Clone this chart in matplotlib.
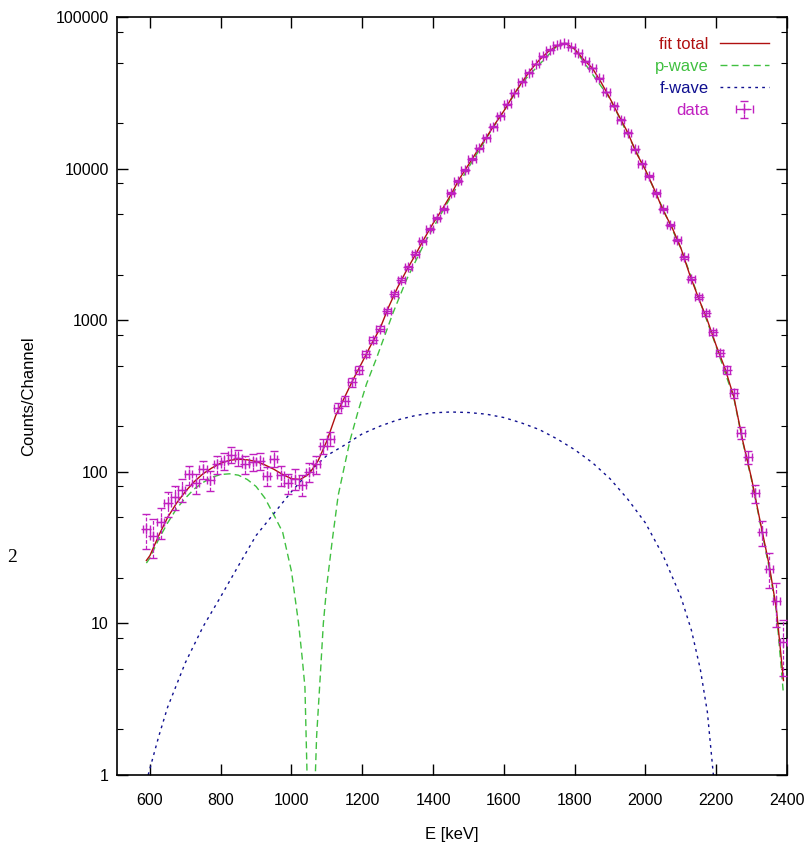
import numpy as np
import matplotlib
matplotlib.use("Agg")
import matplotlib.pyplot as plt
from matplotlib.ticker import LogLocator, FixedLocator, NullFormatter

# ---------------- data ----------------
data_e = [590, 610, 630, 650, 670, 690, 710, 730, 750, 770, 790, 810, 830, 850,
          870, 890, 910, 930, 950, 970, 990, 1010, 1030, 1050, 1070, 1090, 1110,
          1130, 1150, 1170, 1190, 1210, 1230, 1250, 1270, 1290, 1310, 1330, 1350,
          1370, 1390, 1410, 1430, 1450, 1470, 1490, 1510, 1530, 1550, 1570, 1590,
          1610, 1630, 1650, 1670, 1690, 1710, 1730, 1750, 1770, 1790, 1810, 1830,
          1850, 1870, 1890, 1910, 1930, 1950, 1970, 1990, 2010, 2030, 2050, 2070,
          2090, 2110, 2130, 2150, 2170, 2190, 2210, 2230, 2250, 2270, 2290, 2310,
          2330, 2350, 2370, 2390]
data_counts = [42, 38, 47, 62, 68, 76, 96, 84, 104, 88, 112, 118, 130, 124,
               112, 116, 118, 94, 122, 95, 84, 90, 82, 100, 112, 148, 165,
               265, 295, 390, 470, 600, 740, 880, 1150, 1500, 1850, 2240, 2750,
               3330, 4000, 4700, 5450, 6900, 8300, 9800, 11600, 13600, 16000, 18900, 22400,
               26500, 31500, 37500, 43000, 49000, 55000, 61000, 65500, 67000, 63500, 58000, 51000,
               46000, 39500, 32000, 26000, 21000, 17300, 13400, 10800, 8900, 6900, 5400, 4250,
               3380, 2600, 1880, 1420, 1110, 830, 610, 470, 330, 180, 125, 72,
               40, 23, 14, 7.5]
data_err = [11, 11, 11, 12, 12, 13, 14, 13, 14, 13, 15, 15, 15, 15,
            15, 15, 15, 14, 15, 14, 13, 14, 13, 14, 15, 16, 17,
            21, 22, 25, 27, 30, 33, 36, 40, 45, 50, 55, 60,
            66, 72, 78, 85, 95, 105, 115, 125, 135, 145, 160, 170,
            185, 205, 225, 240, 255, 270, 285, 295, 300, 290, 280, 260,
            250, 230, 210, 190, 170, 155, 135, 120, 110, 95, 85, 75,
            68, 60, 50, 44, 38, 33, 28, 25, 21, 16, 13, 10,
            7.5, 6, 4.5, 3]
data_ehalf = 10  # half channel width (keV)

fit_e = [590, 600, 625, 650, 675, 700, 725, 750, 775, 800, 825, 850, 875, 900,
         925, 950, 975, 1000, 1025, 1050, 1075, 1100, 1125, 1150, 1175, 1200,
         1225, 1250, 1275, 1300, 1325, 1350, 1375, 1400, 1425, 1450, 1475, 1500,
         1525, 1550, 1575, 1600, 1625, 1650, 1675, 1700, 1725, 1750, 1775, 1800,
         1825, 1850, 1875, 1900, 1925, 1950, 1975, 2000, 2025, 2050, 2075, 2100,
         2125, 2150, 2175, 2200, 2225, 2250, 2275, 2300, 2325, 2350, 2370, 2390]
fit_total = [26, 28, 38, 50, 62, 74, 86, 97, 106, 114, 119, 121, 120, 117,
             111, 104, 96, 90, 89, 97, 118, 160, 235, 310, 410, 530,
             690, 880, 1230, 1650, 2130, 2700, 3450, 4350, 5350, 6700, 8600, 10600,
             13100, 16000, 19700, 24000, 30000, 36800, 44500, 52000, 59000, 64500, 67000, 61500,
             52500, 46000, 37000, 29000, 22300, 17300, 12600, 9800, 7300, 5300, 4100, 3000,
             2000, 1400, 1000, 680, 480, 310, 160, 90, 46, 24, 12.5, 4.2]

pw_e = [590, 600, 625, 650, 675, 700, 725, 750, 775, 800, 825, 850, 875, 900,
        925, 950, 975, 1000, 1020, 1030, 1038, 1045, 1050, 1055, 1060, 1066, 1071,
        1080, 1090, 1100, 1115, 1132, 1150, 1165, 1188, 1212, 1240, 1287, 1325,
        1375, 1450, 1550, 1650, 1750, 1775, 1800, 1900, 2000, 2100, 2200, 2250,
        2275, 2300, 2325, 2350, 2370, 2390]
pw_vals = [25, 27, 36, 46, 57, 67, 77, 85, 92, 96, 97, 95, 89, 80,
           67, 52, 40, 22, 10, 6, 3.8, 0.8, 0.2, 0.1, 0.2, 0.8, 1.8,
           4, 10, 18, 35, 70, 110, 160, 250, 380, 560, 1120, 1850,
           3200, 6500, 15800, 36600, 64300, 66800, 61300, 28900, 9760, 2980, 670, 305,
           157, 88, 45, 23, 12, 3.4]

fw_e = [595, 625, 650, 700, 750, 800, 850, 900, 950, 1000, 1050, 1100, 1150,
        1200, 1250, 1300, 1350, 1400, 1450, 1500, 1550, 1600, 1650, 1700, 1750,
        1800, 1850, 1900, 1950, 2000, 2050, 2100, 2130, 2155, 2175, 2192]
fw_vals = [1.0, 1.8, 2.8, 5.5, 9.5, 15, 24, 38, 53, 74, 100, 128, 150,
           178, 200, 220, 235, 245, 248, 246, 240, 228, 210, 190, 165,
           140, 115, 90, 66, 46, 28, 15, 9, 5, 2.6, 1.0]

x_ticks = [600, 800, 1000, 1200, 1400, 1600, 1800, 2000, 2200, 2400]
y_ticks = [1, 10, 100, 1000, 10000, 100000]
y_ticklabels = ["1", "10", "100", "1000", "10000", "100000"]

# ---------------- plot ----------------
plt.rcParams['font.family'] = ['Liberation Sans', 'DejaVu Sans']
fig = plt.figure(figsize=(8.09, 8.48), dpi=100)
ax = fig.add_axes([117/809, 1-775/848, (787-117)/809, (775-17)/848])

c_fit = '#b01010'
c_p = '#40c040'
c_f = '#101090'
c_d = '#c020c0'

ax.plot(fit_e, fit_total, color=c_fit, lw=1.0, label='fit total', zorder=3)
ax.plot(pw_e, pw_vals, color=c_p, lw=1.0, ls=(0, (5, 3)), label='p-wave', zorder=2)
ax.plot(fw_e, fw_vals, color=c_f, lw=1.0, ls=(0, (2, 3)), label='f-wave', zorder=2)
eb = ax.errorbar(data_e, data_counts, yerr=data_err, xerr=data_ehalf, fmt='+',
                 color=c_d, ms=7, mew=1.0, elinewidth=0.9, capsize=3, capthick=0.9,
                 label='data', zorder=4)
for lc in eb[2]:
    lc.set_linestyle((0, (3, 1.5)))

ax.set_yscale('log')
ax.set_xlim(507, 2400)
ax.set_ylim(1, 100000)

ax.xaxis.set_major_locator(FixedLocator(x_ticks))
ax.set_xticklabels([str(v) for v in x_ticks])
ax.yaxis.set_major_locator(FixedLocator(y_ticks))
ax.set_yticklabels(y_ticklabels)
ax.yaxis.set_minor_locator(LogLocator(base=10, subs=(2, 5, 8)))
ax.yaxis.set_minor_formatter(NullFormatter())

ax.tick_params(which='both', direction='in', top=True, right=True, colors='black',
               labelsize=11.5)
ax.tick_params(which='major', length=8, width=1.0)
ax.tick_params(which='minor', length=4, width=0.8)
ax.tick_params(axis='x', pad=13)
ax.tick_params(axis='y', pad=6)
for s in ax.spines.values():
    s.set_linewidth(1.2)

ax.set_xlabel('E [keV]', fontsize=12, labelpad=14)
ax.set_ylabel('Counts/Channel', fontsize=12, labelpad=14)

leg = ax.legend(loc='upper right', bbox_to_anchor=(0.995, 0.993), frameon=False,
                markerfirst=False, fontsize=12, handlelength=2.9, handletextpad=0.7,
                labelspacing=0.42)
for t, c in zip(leg.get_texts(), [c_fit, c_p, c_f, c_d]):
    t.set_color(c)

fig.text(12/809, 1-557/848, '2', fontsize=14, family='Liberation Serif',
         ha='center', va='center')

fig.savefig('out.png', dpi=100)
